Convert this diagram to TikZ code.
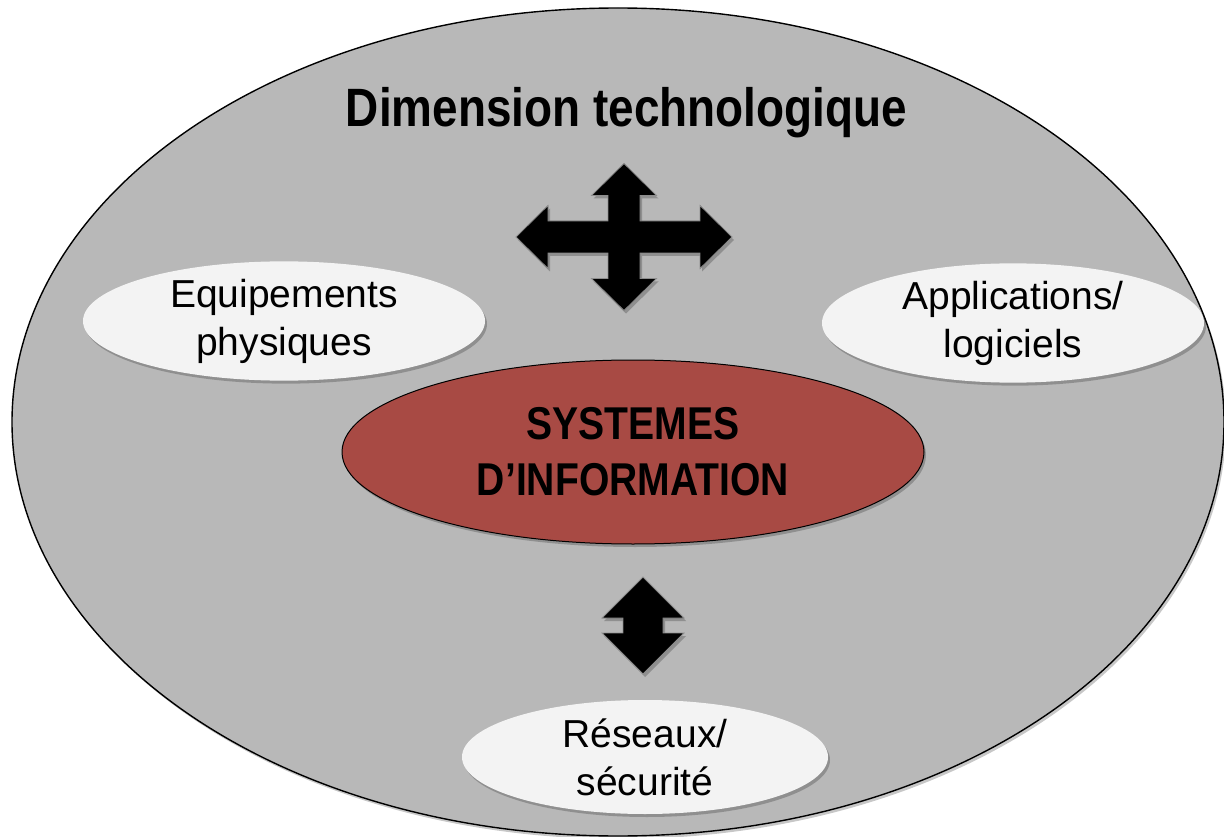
\documentclass[tikz,border=0pt]{standalone}
\usepackage{fontspec}
\setmainfont{Liberation Sans}
\newfontfamily\narrowfont[FakeStretch=0.85]{Liberation Sans}
\usetikzlibrary{positioning}
\usetikzlibrary{shapes.geometric}
\usetikzlibrary{shadows}
\usepackage{xcolor}

\definecolor{outergray}{RGB}{184,184,184}
\definecolor{sired}{RGB}{168,74,68}
\definecolor{ovalwhite}{RGB}{243,243,243}

\tikzset{
  softshadow/.style={drop shadow={shadow xshift=2pt, shadow yshift=-3pt, fill=black, opacity=0.22}},
  bigoval/.style={ellipse, draw=black, line width=1.4pt, fill=outergray, inner sep=0pt, softshadow},
  whiteoval/.style={ellipse, fill=ovalwhite, inner sep=0pt, align=center,
    font=\fontsize{39}{48}\selectfont, softshadow},
  redoval/.style={ellipse, draw=black, line width=1pt, fill=sired, inner sep=0pt, align=center,
    font=\narrowfont\bfseries\fontsize{46}{56}\selectfont, softshadow},
  bigarrow/.style={fill=black, draw=black!45, line width=0.8pt, line join=miter, softshadow}
}

\begin{document}
\begin{tikzpicture}[x=1pt, y=-1pt]
\useasboundingbox (0,0) rectangle (1224,837);

\node[bigoval, minimum width=1212, minimum height=828] (techdim) at (618,422) {};

% titre
\node[anchor=base, font=\narrowfont\bfseries\fontsize{54}{60}\selectfont] (title) at (626.5,127) {Dimension technologique};

\node[whiteoval, minimum width=402, minimum height=114] (equip) at (284,321) {Equipements\\physiques};
\node[whiteoval, minimum width=382, minimum height=110] (appli) at (1013,323) {Applications/\\logiciels};
\node[whiteoval, minimum width=366, minimum height=114] (reseau) at (645,757) {R\'eseaux/\\s\'ecurit\'e};

\node[redoval, minimum width=582, minimum height=184] (si) at (633,452) {SYSTEMES\\D’INFORMATION};

\begin{scope}[shift={(624,237)}]{
\filldraw[bigarrow] (0,-73.5) -- (32.5,-41.5) -- (16,-41.5) -- (16,-16) -- (76,-16) -- (76,-31.5)
  -- (108,0) -- (76,31.5) -- (76,16) -- (16,16) -- (16,41.5) -- (32.5,41.5)
  -- (0,73.5) -- (-32.5,41.5) -- (-16,41.5) -- (-16,16) -- (-76,16) -- (-76,31.5)
  -- (-108,0) -- (-76,-31.5) -- (-76,-16) -- (-16,-16) -- (-16,-41.5) -- (-32.5,-41.5) -- cycle;
} \end{scope}

\begin{scope}[shift={(643,625.5)}]{
\filldraw[bigarrow] (0,-48.5) -- (41,-7.5) -- (20,-7.5) -- (20,7.5) -- (41,7.5)
  -- (0,48.5) -- (-41,7.5) -- (-20,7.5) -- (-20,-7.5) -- (-41,-7.5) -- cycle;
} \end{scope}

\end{tikzpicture}
\end{document}
